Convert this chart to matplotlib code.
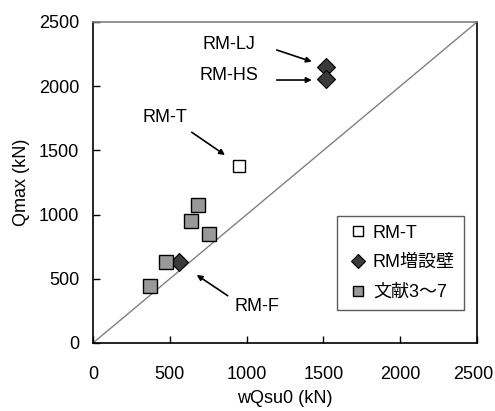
import matplotlib
matplotlib.use("Agg")
import matplotlib.pyplot as plt
from matplotlib.transforms import ScaledTranslation

plt.rcParams["font.family"] = ["Liberation Sans", "Noto Sans CJK JP", "DejaVu Sans"]

# RM-T specimen
rmt_x = [950]
rmt_y = [1375]

# RM with added wall (RM-LJ, RM-HS, RM-F)
wall_x = [1515, 1515, 560]
wall_y = [2150, 2055, 633]

# Literature 3-7
lit_x = [371, 473, 636, 684, 755]
lit_y = [444, 628, 950, 1075, 849]

ticks = [0, 500, 1000, 1500, 2000, 2500]

# (label, text xy, arrow tail, arrow head)
notes = [
    ("RM-LJ", (885, 2321), (1196, 2282), (1424, 2191)),
    ("RM-HS", (885, 2087), (1196, 2048), (1424, 2048)),
    ("RM-T", (469, 1760), (643, 1641), (859, 1464)),
    ("RM-F", (1068, 288), (877, 368), (675, 530)),
]

FS = 13

fig = plt.figure(figsize=(4.95, 4.11), dpi=100)
ax = fig.add_axes([0.1879, 0.1655, 0.7758, 0.781])

ax.plot([0, 2500], [0, 2500], color="#808080", lw=1.0, zorder=1)

ax.plot(rmt_x, rmt_y, ls="none", marker="s", ms=9, mfc="white", mec="black",
        mew=1.0, label="RM-T", zorder=3)
ax.plot(wall_x, wall_y, ls="none", marker="D", ms=9, mfc="#3a3a3a", mec="black",
        mew=0.8, label="RM増設壁", zorder=3)
ax.plot(lit_x, lit_y, ls="none", marker="s", ms=10, mfc="#999999", mec="black",
        mew=1.0, label="文献3～7", zorder=3)

for label, txy, tail, head in notes:
    ax.text(txy[0], txy[1], label, ha="center", va="center", fontsize=FS)
    ax.annotate("", xy=head, xytext=tail,
                arrowprops=dict(arrowstyle="-|>", color="black", lw=1.2,
                                mutation_scale=8, shrinkA=0, shrinkB=0))

ax.set_xlim(0, 2500)
ax.set_ylim(0, 2500)
ax.set_xticks(ticks)
ax.set_yticks(ticks)
ax.tick_params(direction="in", length=5, labelsize=FS, width=1)
ax.tick_params(axis="x", pad=16.5)
ax.tick_params(axis="y", pad=10)
ax.set_xlabel("wQsu0 (kN)", fontsize=FS, labelpad=5)
ax.set_ylabel("Qmax (kN)", fontsize=FS, labelpad=6)

# last x tick label sits slightly left in the reference
last = ax.get_xticklabels()[-1]
last.set_transform(last.get_transform() + ScaledTranslation(-4 / 100, 0, fig.dpi_scale_trans))

for side in ["left", "bottom", "right"]:
    ax.spines[side].set_color("black")
    ax.spines[side].set_linewidth(1.2)
ax.spines["top"].set_color("#808080")
ax.spines["top"].set_linewidth(1.2)

leg = ax.legend(loc="lower right", bbox_to_anchor=(0.966, 0.103), fontsize=FS,
                frameon=True, fancybox=False, edgecolor="#333333",
                handlelength=1.3, handletextpad=0.2, labelspacing=0.7,
                borderpad=0.5, borderaxespad=0, markerscale=0.75)
leg.get_frame().set_linewidth(1.0)

fig.savefig("out.png", dpi=100)
